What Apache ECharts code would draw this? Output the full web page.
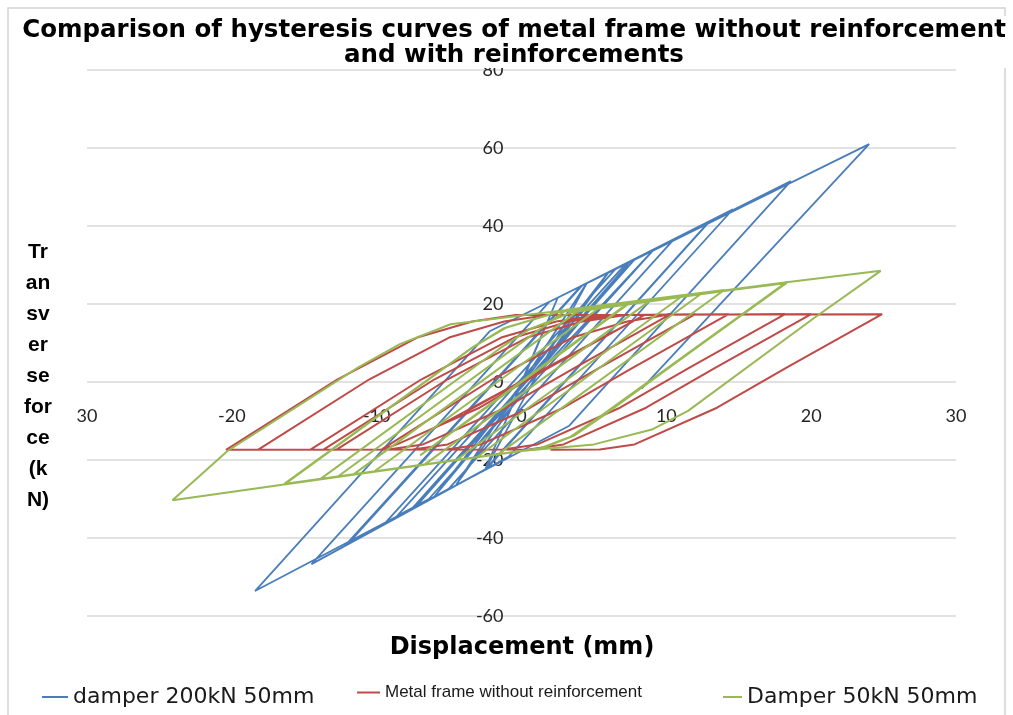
<!DOCTYPE html>
<html>
<head>
<meta charset="utf-8">
<script src="https://cdn.jsdelivr.net/npm/echarts@6/dist/echarts.min.js"></script>
<style>html,body{margin:0;padding:0;background:#fff;}#c{width:1013px;height:715px;}</style>
</head>
<body>
<div id="c"></div>
<script>
// Axis ranges / ticks
const xTicks = [-30, -20, -10, 0, 10, 20, 30];
const yTicks = [-60, -40, -20, 0, 20, 40, 60, 80];
const seriesNames = ['damper 200kN 50mm', 'Metal frame without reinforcement', 'Damper 50kN 50mm'];

// damper 200kN 50mm : [displacement (mm), force (kN)]
const damper200 = [
  [0,0],
  [2.5,21.6],[-2.5,-22.4],
  [4.5,25.3],[-4.5,-26.3],
  [6,28.1],[-6,-29.3],
  [7.5,30.9],[-7.2,-31.6],
  [7.8,31.4],[-7.5,-32.2],
  [9.1,33.8],[-6.4,-30.0],[-8.6,-34.4],
  [7.2,30.3],[10.5,36.5],[-5.0,-27.3],[-9.5,-36.5],
  [6.5,29.0],[12.8,40.5],[-2.5,-22.4],[-12.0,-41.6],
  [4.2,24.8],[12.9,40.8],[-2.4,-22.2],[-12.2,-42.0],
  [4.1,24.6],[14.6,44.3],[-0.9,-19.2],[-14.5,-46.7],
  [1.9,20.5],[18.6,51.5],[3.3,-11.2],[-18.4,-53.6],
  [-2.2,13.0],[24.0,61.0],[8.3,-1.7]
];

// Metal frame without reinforcement
const metalFrame = [
  [0,0],
  [4,8.2],[-4,-8.0],
  [6,12.2],[-6.5,-12.8],
  [8.2,16.6],[8.5,17.2],[1.9,3.7],[-2.9,-6.6],[-8.6,-16.0],[-9.7,-17.4],
  [-2.0,0.7],[3.5,11.4],[7.3,15.5],[10.3,17.4],
  [3.7,3.7],[-1.1,-6.6],[-6.8,-16.0],[-9.2,-17.3],[-12.8,-17.4],
  [-5.1,0.7],[0.4,11.4],[4.2,15.5],[7.2,17.2],[12.0,17.4],
  [5.4,3.7],[0.6,-6.6],[-5.1,-16.0],[-7.5,-17.3],[-13.7,-17.4],
  [-6.0,0.7],[-0.5,11.4],[3.3,15.5],[6.3,17.2],[14.3,17.4],
  [7.7,3.7],[2.9,-6.6],[-2.8,-16.0],[-5.2,-17.3],[-14.6,-17.4],
  [-6.9,0.7],[-1.4,11.4],[2.4,15.5],[5.4,17.2],[18.2,17.4],
  [11.6,3.7],[6.8,-6.6],[1.1,-16.0],[-1.3,-17.3],[-18.2,-17.4],
  [-10.5,0.7],[-5.0,11.4],[-1.2,15.5],[1.8,17.2],[20.0,17.4],
  [13.4,3.7],[8.6,-6.6],[2.9,-16.0],[0.5,-17.3],[-20.4,-17.4],
  [-12.7,0.7],[-7.2,11.4],[-3.4,15.5],[-0.4,17.2],[24.9,17.4],
  [18.3,3.7],[13.5,-6.6],[7.8,-16.0],[5.4,-17.3],[2.0,-17.4]
];

// Damper 50kN 50mm
const damper50 = [
  [0,0],[4,10.8],[-4,-10.8],
  [7,19.2],[-7,-18.8],
  [7.6,20.6],[9,21.2],[-6.7,-21.2],[-10.2,-23.0],
  [5.6,19.6],[11.2,22.3],[-4.5,-20.0],[-11.6,-23.7],
  [4.2,19.0],[12.5,22.9],[-3.1,-19.3],[-12.7,-24.3],
  [3.1,18.5],[14.0,23.6],[-1.6,-18.5],[-13.9,-24.9],
  [-1.5,8.6],[0.6,13.6],[3.5,17.9],[18.3,25.6],
  [5.5,-9.0],[3.6,-13.8],[1.5,-16.9],[-16.4,-26.2],
  [-3.5,8.6],[-1.2,13.8],[2.5,17.9],[18.3,25.4],
  [5.4,-9.1],[3.5,-13.9],[1.4,-16.9],[-16.3,-26.1],
  [-3.4,8.8],[-1.1,13.9],[2.6,18.0],[18.2,25.3],
  [5.3,-9.2],[3.4,-14.0],[1.3,-17.0],[-16.4,-26.2],
  [-3.5,8.6],[-1.2,13.8],[2.5,17.9],[18.3,25.6],[24.8,28.5],
  [20.2,16.4],[11.5,-7.4],[9.0,-12.2],[5.0,-16.0],[0,-17.7],[-24.1,-30.3],
  [-20.3,-17.7],[-11.3,3.7],[-8.4,9.7],[-4.9,14.8],[-0.3,16.9],[3.0,18.4]
];

const colors = ['#4a7ebb', '#be4b48', '#98b954'];

const chart = echarts.init(document.getElementById('c'), null, {renderer: 'canvas'});

const axisLabelStyle = {fontFamily: 'Lato', fontSize: 18, color: '#262626'};

// grid geometry (pixels)
const gridLeft = 87, gridRight = 57, gridTop = 70, gridBottom = 99;
const plotW = 1013 - gridLeft - gridRight, plotH = 715 - gridTop - gridBottom;
// move the axes so that they cross at (0,0), like the original
const xAxisOffset = -plotH * (0 - yTicks[0]) / (yTicks[yTicks.length - 1] - yTicks[0]);
const yAxisOffset = -plotW * (0 - xTicks[0]) / (xTicks[xTicks.length - 1] - xTicks[0]);

const option = {
  animation: false,
  backgroundColor: '#fff',
  title: {
    text: 'Comparison of hysteresis curves of metal frame without reinforcement\nand with reinforcements',
    left: 510,
    textAlign: 'center',
    top: 16,
    padding: [2, 4, 0, 4],
    backgroundColor: '#fff',
    textStyle: {fontFamily: 'DejaVu Sans', fontWeight: 'bold', fontSize: 24.5, lineHeight: 25, color: '#000'}
  },
  grid: {left: gridLeft, right: gridRight, top: gridTop, bottom: gridBottom, containLabel: false},
  xAxis: {
    type: 'value', position: 'bottom', offset: xAxisOffset,
    min: xTicks[0], max: xTicks[xTicks.length - 1], interval: 10,
    axisLine: {show: false, onZero: false},
    axisTick: {show: false},
    splitLine: {show: false},
    axisLabel: Object.assign({margin: 25, formatter: function (v) { return v === xTicks[0] ? String(-v) : String(v); }}, axisLabelStyle)
  },
  yAxis: {
    type: 'value', position: 'left', offset: yAxisOffset,
    min: yTicks[0], max: yTicks[yTicks.length - 1], interval: 20,
    axisLine: {show: false, onZero: false},
    axisTick: {show: false},
    splitLine: {show: true, lineStyle: {color: '#d9d9d9', width: 1.5}},
    axisLabel: Object.assign({margin: 18}, axisLabelStyle)
  },
  legend: [
    {data: [seriesNames[0]], left: 37, top: 681, icon: 'rect', itemWidth: 26, itemHeight: 2, selectedMode: false,
     textStyle: {fontFamily: 'DejaVu Sans', fontSize: 22, color: '#1a1a1a'}},
    {data: [seriesNames[1]], left: 352, top: 679, icon: 'rect', itemWidth: 23, itemHeight: 2, selectedMode: false,
     textStyle: {fontFamily: 'Liberation Sans', fontSize: 17, color: '#1a1a1a'}},
    {data: [seriesNames[2]], left: 718, top: 681, icon: 'rect', itemWidth: 19, itemHeight: 2, selectedMode: false,
     textStyle: {fontFamily: 'DejaVu Sans', fontSize: 22, color: '#1a1a1a'}}
  ],
  graphic: [
    {type: 'rect', silent: true, z: -1, shape: {x: 8, y: 8, width: 997, height: 720},
     style: {fill: 'none', stroke: '#d4d4d4', lineWidth: 1.5}},
    {type: 'text', x: 38, y: 376, silent: true,
     style: {text: 'Tr\nan\nsv\ner\nse\nfor\nce\n(k\nN)', fontFamily: 'Liberation Sans', fontWeight: 'bold', fontSize: 21,
             lineHeight: 31, align: 'center', verticalAlign: 'middle', fill: '#000'}},
    {type: 'text', x: 522, y: 648, silent: true,
     style: {text: 'Displacement (mm)', fontFamily: 'DejaVu Sans', fontWeight: 'bold', fontSize: 24,
             align: 'center', verticalAlign: 'middle', fill: '#000'}}
  ],
  series: [
    {name: seriesNames[0], type: 'line', data: damper200, showSymbol: false, symbol: 'none',
     lineStyle: {color: colors[0], width: 1.8}, itemStyle: {color: colors[0]}, z: 2},
    {name: seriesNames[1], type: 'line', data: metalFrame, showSymbol: false, symbol: 'none',
     lineStyle: {color: colors[1], width: 2}, itemStyle: {color: colors[1]}, z: 3},
    {name: seriesNames[2], type: 'line', data: damper50, showSymbol: false, symbol: 'none',
     lineStyle: {color: colors[2], width: 2}, itemStyle: {color: colors[2]}, z: 4}
  ]
};
chart.setOption(option);
</script>
</body>
</html>
